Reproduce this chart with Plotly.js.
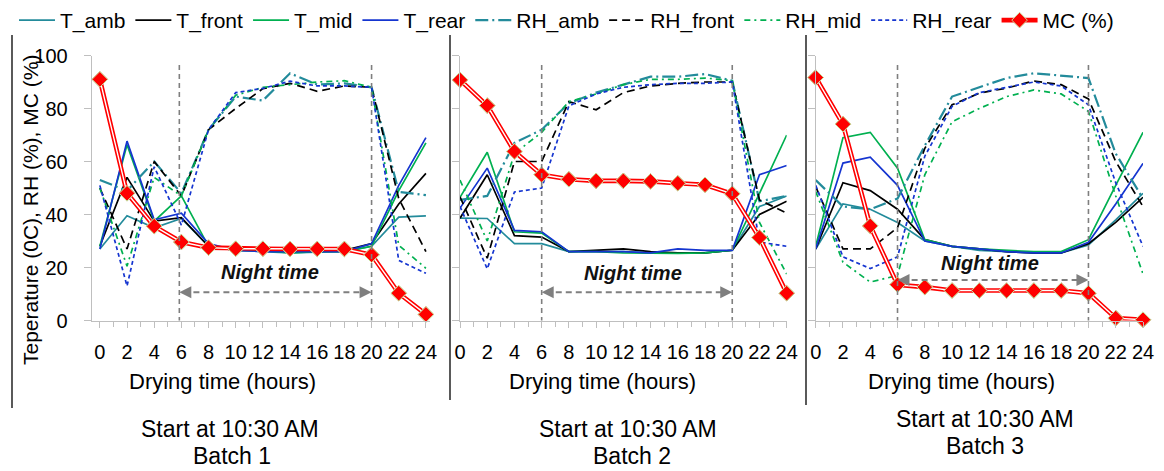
<!DOCTYPE html>
<html><head><meta charset="utf-8">
<script src="https://cdn.plot.ly/plotly-3.0.1.min.js"></script>
<style>html,body{margin:0;padding:0;background:#fff}#chart{width:1164px;height:471px}</style>
</head><body><div id="chart"></div>
<script>
// ---- data ----
const hours = [0, 2, 4, 6, 8, 10, 12, 14, 16, 18, 20, 22, 24];
const xTicks = [0, 2, 4, 6, 8, 10, 12, 14, 16, 18, 20, 22, 24];
const yTicks = [0, 20, 40, 60, 80, 100];
const seriesNames = ['T_amb', 'T_front', 'T_mid', 'T_rear', 'RH_amb', 'RH_front', 'RH_mid', 'RH_rear', 'MC (%)'];
const batchLabels = ['Batch 1', 'Batch 2', 'Batch 3'];
const startLabels = ['Start at 10:30 AM', 'Start at 10:30 AM', 'Start at 10:30 AM'];
const nightStart = [5.85, 6, 6];
const nightEnd = [20, 20, 20];

// Batch 1
const T_amb_1   = [27, 39.5, 35, 38.5, 28, 26.5, 26, 25.5, 25.8, 26, 28, 39, 39.5];
const T_front_1 = [28, 54, 37.5, 38.8, 28, 27, 26.5, 26.5, 26.5, 26.5, 29, 44, 55.5];
const T_mid_1   = [28, 66.3, 37.5, 47, 28, 26.5, 26.5, 25.5, 26, 26, 28, 49, 67];
const T_rear_1  = [27, 67.7, 38, 40.5, 29, 26.5, 26, 26, 26, 26, 29, 51, 69];
const RH_amb_1   = [53, 49, 60, 48, 72, 84.5, 83, 93.3, 89, 89.5, 88, 48.5, 47.3];
const RH_front_1 = [50, 27, 60, 47, 72, 80, 87.5, 89.5, 86.5, 88.5, 88, 46, 26];
const RH_mid_1   = [50, 20.5, 54, 47, 72, 85, 88, 89, 90, 90.5, 88, 28.4, 19.7];
const RH_rear_1  = [51, 13, 58, 36, 72, 86, 87.6, 90.3, 88.5, 88.5, 88, 22.7, 17.8];
const MC_1 = [91, 48, 35.6, 29.6, 27.5, 27.1, 27.1, 27, 27, 27, 24.8, 10.3, 2.3];

// Batch 2
const T_amb_2   = [38.6, 38.5, 29, 29, 26, 26, 26, 25.5, 25.5, 25.5, 26.5, 43, 47];
const T_front_2 = [38.6, 55, 32, 31.5, 26, 26.5, 27, 26, 25.5, 25.5, 26.5, 40, 45];
const T_mid_2   = [46.5, 63.5, 33.5, 33, 26, 26, 25.5, 25.3, 25.3, 25.5, 26.5, 48, 70];
const T_rear_2  = [42.4, 57.5, 34, 33.5, 26, 26, 26, 25.5, 27, 26.5, 26.5, 55, 58.5];
const RH_amb_2   = [45.5, 47, 67, 72, 82, 86, 89, 92, 92, 93, 90.5, 45, 47];
const RH_front_2 = [46.7, 23.5, 60, 60, 82.6, 79.5, 86, 88.5, 89.5, 90, 90, 45.5, 40.5];
const RH_mid_2   = [53, 30, 63, 71, 82.6, 85.5, 89, 91, 91, 91.5, 90.5, 37, 17.5];
const RH_rear_2  = [43, 19.5, 48.5, 50, 81, 85.5, 88, 89, 89.5, 89.5, 90, 29.6, 28];
const MC_2 = [90.8, 81.1, 63.8, 55, 53.3, 52.7, 52.7, 52.5, 51.8, 51.2, 47.8, 31.3, 10.3];

// Batch 3
const T_amb_3   = [27, 44, 42, 37, 30, 28, 26.5, 26, 25.5, 25.5, 28.5, 38, 48];
const T_front_3 = [27, 52, 49, 42, 30.5, 28, 27, 26, 25.5, 25.5, 29, 37, 46.5];
const T_mid_3   = [28, 69, 71, 57.5, 30.5, 28, 27, 26.5, 26, 26, 30.5, 51, 71];
const T_rear_3  = [27, 59.4, 61.6, 51, 30, 28, 27, 26, 25.5, 25.5, 29.5, 44, 59.3];
const RH_amb_3   = [53, 43, 42, 46, 66, 84.5, 88, 91.5, 93.3, 92.5, 91.5, 63, 46];
const RH_front_3 = [50.5, 27, 27, 35, 65, 81.4, 85.8, 87.7, 90.4, 89, 83.6, 60, 43];
const RH_mid_3   = [48.7, 22, 14.5, 17, 55, 75, 80, 84.5, 87, 85.5, 78.9, 47, 17.6];
const RH_rear_3  = [51, 24, 19.6, 24, 62, 80.8, 86, 88, 90, 88.5, 81.4, 52, 28];
const MC_3 = [91.7, 74.1, 35.7, 13.5, 12.6, 11.3, 11.3, 11.3, 11.3, 11.3, 10.3, 0.9, 0.3];

// ---- styling ----
const W = 1164, H = 471;
const teal = '#238b9b', green = '#00b050', blue = '#1535d0', red = '#ff0000', grey = '#7f7f7f', axisGrey = '#bfbfbf';
const FONT = 'Liberation Sans, Arial, sans-serif';
const styles = [
  {color: teal, dash: 'solid'},
  {color: '#000000', dash: 'solid'},
  {color: green, dash: 'solid'},
  {color: blue, dash: 'solid'},
  {color: teal, dash: '13px,4px,2px,4px', width: 2.2},
  {color: '#000000', dash: '8px,5px'},
  {color: green, dash: '6px,4px,2px,4px'},
  {color: blue, dash: '4px,3px'}
];
const batches = [
  [T_amb_1, T_front_1, T_mid_1, T_rear_1, RH_amb_1, RH_front_1, RH_mid_1, RH_rear_1, MC_1],
  [T_amb_2, T_front_2, T_mid_2, T_rear_2, RH_amb_2, RH_front_2, RH_mid_2, RH_rear_2, MC_2],
  [T_amb_3, T_front_3, T_mid_3, T_rear_3, RH_amb_3, RH_front_3, RH_mid_3, RH_rear_3, MC_3]
];
const sfx = ['', '2', '3'];
const traces = [];
batches.forEach((b, bi) => {
  const xa = 'x' + sfx[bi], ya = 'y' + sfx[bi];
  for (let i = 0; i < 8; i++) {
    traces.push({x: hours, y: b[i], xaxis: xa, yaxis: ya, name: seriesNames[i], legendgroup: seriesNames[i],
      showlegend: bi === 0, mode: 'lines', cliponaxis: false, hoverinfo: 'skip',
      line: {color: styles[i].color, dash: styles[i].dash, width: styles[i].width || 1.7}});
  }
});
// MC drawn last (on top)
batches.forEach((b, bi) => {
  const xa = 'x' + sfx[bi], ya = 'y' + sfx[bi];
  traces.push({x: hours, y: b[8], xaxis: xa, yaxis: ya, name: seriesNames[8], legendgroup: 'MC',
    showlegend: bi === 0, mode: 'lines+markers', cliponaxis: false, hoverinfo: 'skip',
    line: {color: red, width: 4.6}, marker: {symbol: 'diamond', size: 12, color: red, line: {color: '#c8dc9c', width: 1}}});
  traces.push({x: hours, y: b[8], xaxis: xa, yaxis: ya, showlegend: false, mode: 'lines', cliponaxis: false,
    hoverinfo: 'skip', line: {color: '#ffffff', width: 1.4}});
  traces.push({x: hours, y: b[8], xaxis: xa, yaxis: ya, showlegend: false, mode: 'markers', cliponaxis: false,
    hoverinfo: 'skip', marker: {symbol: 'diamond', size: 12, color: red, line: {color: '#c8dc9c', width: 1}}});
});

// ---- layout ----
const px = v => v / W, py = v => 1 - v / H;
const xDomains = [[px(91.7), px(430)], [px(460), px(786.7)], [px(815.7), px(1143)]];
const xRanges = [[-0.6, 24.3], [0, 24], [0, 24]];
const yDom = [py(320.5), py(55.5)];
const layout = {
  width: W, height: H, margin: {l: 0, r: 0, t: 0, b: 0},
  paper_bgcolor: '#fff', plot_bgcolor: 'rgba(0,0,0,0)',
  font: {family: FONT, color: '#000', size: 20},
  showlegend: true,
  legend: {orientation: 'h', x: px(14), y: py(0), xanchor: 'left', yanchor: 'top',
    font: {size: 21, family: FONT}, itemwidth: 36, tracegroupgap: 0, bgcolor: 'rgba(0,0,0,0)'},
  shapes: [], annotations: []
};
for (let i = 0; i < 3; i++) {
  const s = sfx[i];
  layout['xaxis' + s] = {domain: xDomains[i], range: xRanges[i], anchor: 'y' + s,
    tickmode: 'array', tickvals: xTicks, ticktext: xTicks.map(String), showgrid: false, zeroline: false,
    showline: true, linecolor: axisGrey, linewidth: 1, ticks: 'outside', ticklen: 6, tickcolor: axisGrey,
    ticklabelstandoff: 7,
    tickfont: {size: 20, family: FONT}, fixedrange: true,
    minor: {dtick: 1, tick0: 0, ticks: 'outside', ticklen: 5, tickcolor: axisGrey}};
  layout['yaxis' + s] = {domain: yDom, range: [0, 100], anchor: 'x' + s,
    tickmode: 'array', tickvals: yTicks, ticktext: yTicks.map(String),
    showticklabels: i === 0, showgrid: false, zeroline: false,
    showline: true, linecolor: axisGrey, linewidth: 1, ticks: 'outside', ticklen: 7, tickcolor: axisGrey,
    ticklabelstandoff: 12,
    tickfont: {size: 20, family: FONT}, fixedrange: true};
  [nightStart[i], nightEnd[i]].forEach(xv => layout.shapes.push({type: 'line', xref: 'x' + s, yref: 'y' + s,
    x0: xv, x1: xv, y0: -4, y1: 97, line: {color: grey, width: 1.6, dash: '5px,4px'}}));
}
const arrowY = [10.7, 10.7, 15.3];
const nightTextPos = [[12.5, 18.3], [12.7, 17.9], [12.8, 21.7]];
for (let i = 0; i < 3; i++) {
  const s = sfx[i];
  layout.shapes.push({type: 'line', xref: 'x' + s, yref: 'y' + s, x0: nightStart[i] + 0.3, x1: nightEnd[i] - 0.3,
    y0: arrowY[i], y1: arrowY[i], line: {color: grey, width: 2, dash: '6px,4px'}});
  layout.annotations.push({xref: 'x' + s, yref: 'y' + s, x: nightEnd[i], y: arrowY[i], ax: -12, ay: 0, text: '',
    showarrow: true, arrowhead: 2, arrowsize: 1.2, arrowwidth: 2, arrowcolor: grey});
  layout.annotations.push({xref: 'x' + s, yref: 'y' + s, x: nightStart[i], y: arrowY[i], ax: 12, ay: 0, text: '',
    showarrow: true, arrowhead: 2, arrowsize: 1.2, arrowwidth: 2, arrowcolor: grey});
  layout.annotations.push({xref: 'x' + s, yref: 'y' + s, x: nightTextPos[i][0], y: nightTextPos[i][1],
    xanchor: 'center', yanchor: 'middle',
    text: '<b><i>Night time</i></b>', showarrow: false, font: {size: 20, family: FONT, color: '#111'}});
}
const dtX = [222, 602, 962];
const startPos = [[230, 429], [628, 429], [985, 419]];
const batchPos = [[232, 456], [632, 456], [985, 446]];
for (let i = 0; i < 3; i++) {
  layout.annotations.push({xref: 'paper', yref: 'paper', x: px(dtX[i]), y: py(381), xanchor: 'center', yanchor: 'middle',
    text: 'Drying time (hours)', showarrow: false, font: {size: 22, family: FONT}});
  layout.annotations.push({xref: 'paper', yref: 'paper', x: px(startPos[i][0]), y: py(startPos[i][1]),
    xanchor: 'center', yanchor: 'middle', text: startLabels[i], showarrow: false, font: {size: 23, family: FONT}});
  layout.annotations.push({xref: 'paper', yref: 'paper', x: px(batchPos[i][0]), y: py(batchPos[i][1]),
    xanchor: 'center', yanchor: 'middle', text: batchLabels[i], showarrow: false, font: {size: 23, family: FONT}});
}
layout.annotations.push({xref: 'paper', yref: 'paper', x: px(30), y: py(210), xanchor: 'center', yanchor: 'middle',
  textangle: -90, text: 'Teperature (0C), RH (%), MC (%)', showarrow: false, font: {size: 21, family: FONT}});
[[12, 35, 408], [450, 35, 400], [806, 35, 405]].forEach(([xp, t, b]) => layout.shapes.push({type: 'line',
  xref: 'paper', yref: 'paper', x0: px(xp), x1: px(xp), y0: py(b), y1: py(t), line: {color: '#000', width: 1.3}}));

Plotly.newPlot('chart', traces, layout, {staticPlot: true, displayModeBar: false});
</script></body></html>
